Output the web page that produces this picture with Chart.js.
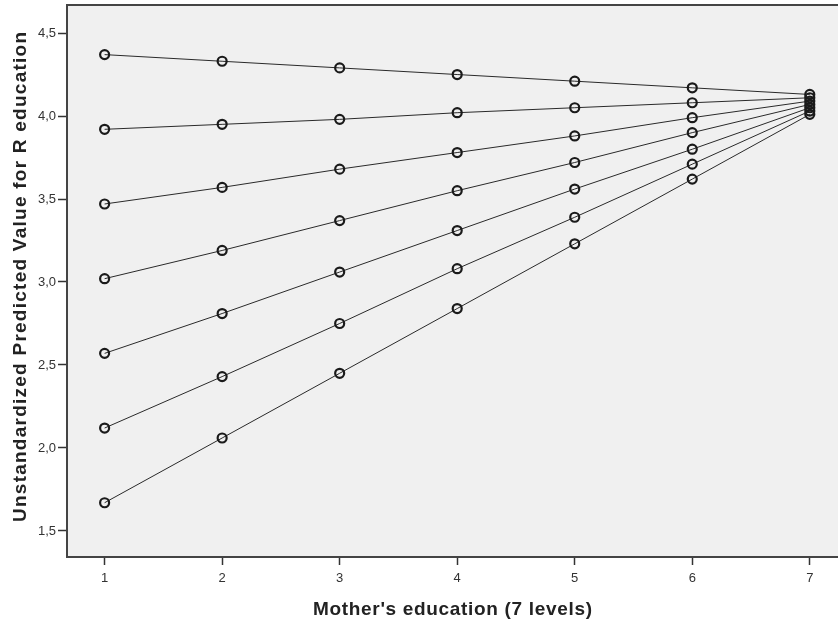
<!DOCTYPE html>
<html>
<head>
<meta charset="utf-8">
<title>Predicted R education by mother's education</title>
<script src="https://cdn.jsdelivr.net/npm/chart.js@4.4.1/dist/chart.umd.min.js"></script>
<style>
  html, body { margin: 0; padding: 0; background: #fff; }
  #wrap { width: 838px; height: 622px; position: relative; }
</style>
</head>
<body>
<div id="wrap"><canvas id="myChart"></canvas></div>
<script>
// Mother's education levels (x) and predicted R education for each line
const levels = [1, 2, 3, 4, 5, 6, 7];
const line1 = [4.37, 4.33, 4.29, 4.25, 4.21, 4.17, 4.13];
const line2 = [3.92, 3.95, 3.98, 4.02, 4.05, 4.08, 4.11];
const line3 = [3.47, 3.57, 3.68, 3.78, 3.88, 3.99, 4.09];
const line4 = [3.02, 3.19, 3.37, 3.55, 3.72, 3.90, 4.07];
const line5 = [2.57, 2.81, 3.06, 3.31, 3.56, 3.80, 4.05];
const line6 = [2.12, 2.43, 2.75, 3.08, 3.39, 3.71, 4.03];
const line7 = [1.67, 2.06, 2.45, 2.84, 3.23, 3.62, 4.01];
const yTickValues = [1.5, 2.0, 2.5, 3.0, 3.5, 4.0, 4.5];

const xTitle = "Mother's education (7 levels)";
const yTitle = "Unstandardized Predicted Value for R education";

const FONT = 'Arial, "Liberation Sans", sans-serif';

(() => {
  "use strict";

  const allLines = [line1, line2, line3, line4, line5, line6, line7];

  const datasets = allLines.map((vals) => ({
    data: levels.map((lv, i) => ({ x: lv, y: vals[i] })),
    showLine: true,
    borderColor: "#2a2a2a",
    borderWidth: 1,
    pointRadius: 4.5,
    pointHoverRadius: 4.5,
    pointBorderWidth: 2.2,
    pointBorderColor: "#1a1a1a",
    pointBackgroundColor: "rgba(0,0,0,0)",
  }));

  // draw text with letter spacing so it spans a given width
  function drawSpaced(ctx, text, left, baseline, width) {
    ctx.letterSpacing = "0px";
    const natural = ctx.measureText(text).width;
    const ls = (width - natural) / (text.length - 1);
    ctx.letterSpacing = ls + "px";
    ctx.textAlign = "left";
    ctx.textBaseline = "alphabetic";
    ctx.fillText(text, left, baseline);
    ctx.letterSpacing = "0px";
  }

  const plotFrame = {
    id: "plotFrame",
    beforeDraw(chart) {
      const { ctx, chartArea: a } = chart;
      ctx.save();
      ctx.fillStyle = "#f0f0f0";
      ctx.fillRect(a.left, a.top, a.right - a.left, a.bottom - a.top);
      ctx.restore();
    },
    afterDraw(chart) {
      const { ctx, chartArea: a } = chart;
      ctx.save();
      ctx.strokeStyle = "#444";
      ctx.lineWidth = 2;
      ctx.beginPath();
      ctx.moveTo(a.left - 1, a.top);
      ctx.lineTo(a.right, a.top);
      ctx.stroke();

      ctx.fillStyle = "#222";
      ctx.font = "bold 19px " + FONT;
      // x title
      drawSpaced(ctx, xTitle, 313, 615, 279);
      // y title, rotated
      ctx.translate(26, 277);
      ctx.rotate(-Math.PI / 2);
      drawSpaced(ctx, yTitle, -245, 0, 490);
      ctx.restore();
    },
  };

  const ctx = document.getElementById("myChart");
  const myChart = new Chart(ctx, {
    type: "scatter",
    data: { datasets: datasets },
    plugins: [plotFrame],
    options: {
      responsive: true,
      maintainAspectRatio: false,
      animation: false,
      layout: {
        autoPadding: false,
        padding: { top: 5, right: 0, bottom: 0, left: 0 },
      },
      plugins: {
        legend: { display: false },
        tooltip: { enabled: false },
      },
      scales: {
        x: {
          type: "linear",
          min: 0.68,
          max: 7.24,
          afterBuildTicks: (scale) => {
            scale.ticks = levels.map((v) => ({ value: v }));
          },
          afterFit: (scale) => {
            scale.height = 65;
            scale.paddingLeft = 0;
            scale.paddingRight = 0;
          },
          grid: {
            drawOnChartArea: false,
            tickLength: 8,
            tickColor: "#333",
            tickWidth: 1.5,
          },
          border: { color: "#444", width: 2 },
          ticks: {
            padding: 6,
            color: "#333",
            font: { family: FONT, size: 13 },
            maxRotation: 0,
          },
          title: { display: false },
        },
        y: {
          min: 1.343,
          max: 4.669,
          afterBuildTicks: (scale) => {
            scale.ticks = yTickValues.map((v) => ({ value: v }));
          },
          afterFit: (scale) => {
            scale.width = 67;
            scale.paddingTop = 0;
            scale.paddingBottom = 0;
          },
          grid: {
            drawOnChartArea: false,
            tickLength: 9,
            tickColor: "#333",
            tickWidth: 1.5,
          },
          border: { color: "#444", width: 2 },
          ticks: {
            padding: 2,
            color: "#333",
            font: { family: FONT, size: 13 },
            callback: (v) => Number(v).toFixed(1).replace(".", ","),
          },
          title: { display: false },
        },
      },
    },
  });
})();
</script>
</body>
</html>
